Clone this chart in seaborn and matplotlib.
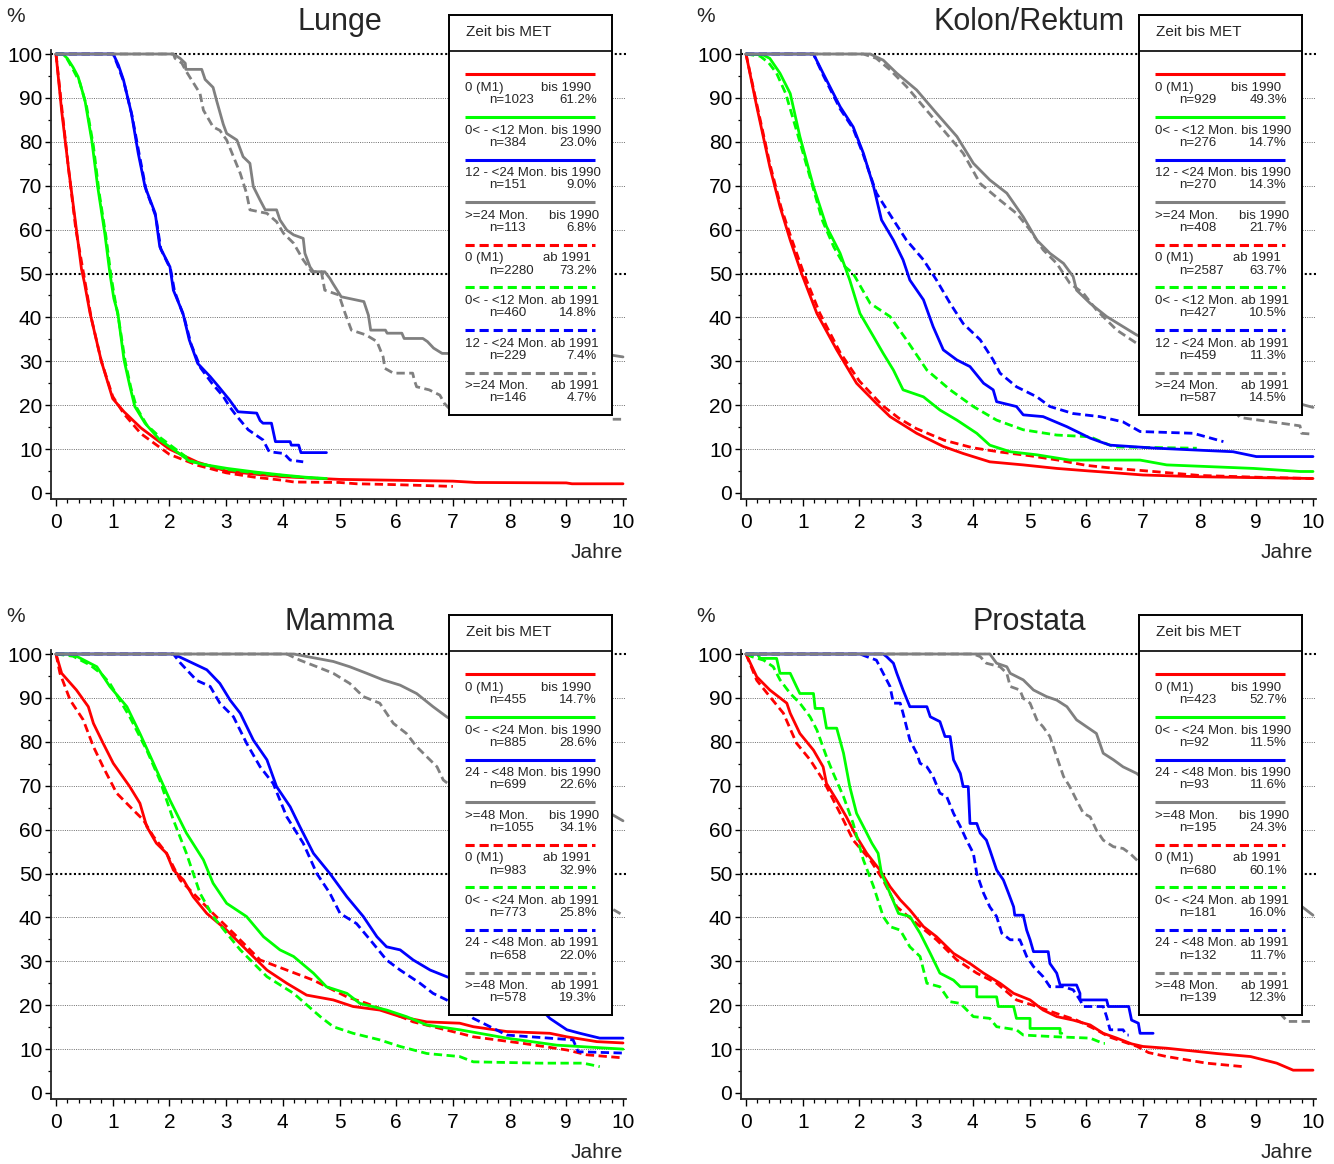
import matplotlib
matplotlib.use("Agg")
import matplotlib.pyplot as plt
from matplotlib.ticker import MultipleLocator
import pandas as pd
import seaborn as sns

sns.set_theme(style="white")
plt.rcParams["font.family"] = ["Liberation Sans", "DejaVu Sans"]

# ---------------------------------------------------------------- data
PERIODS = ["bis 1990", "ab 1991"]
COLORS = ["#ff0000", "#00ff00", "#0000ff", "#808080"]

# Lunge
lunge_groups = ["0 (M1)", "0< - <12 Mon.", "12 - <24 Mon.", ">=24 Mon."]
lunge_n_bis = [1023, 384, 151, 113]
lunge_pct_bis = [61.2, 23.0, 9.0, 6.8]
lunge_n_ab = [2280, 460, 229, 146]
lunge_pct_ab = [73.2, 14.8, 7.4, 4.7]

lunge_g0_bis_t = [0, 0.1, 0.22, 0.35, 0.45, 0.5, 0.6, 0.8, 1.0, 1.2, 1.5, 2.0, 2.5, 3.0, 3.5, 4.0, 5.0, 6.0, 7.0, 7.4, 9.0, 9.1, 10.0]
lunge_g0_bis_s = [100, 87, 74, 61, 51, 48, 41, 30, 21.5, 18.5, 14.8, 10, 7, 5.0, 4.3, 3.7, 3.1, 2.9, 2.7, 2.4, 2.3, 2.1, 2.1]
lunge_g0_ab_t = [0, 0.1, 0.22, 0.35, 0.5, 0.62, 0.8, 1.0, 1.2, 1.5, 2.0, 2.5, 3.0, 3.5, 4.0, 4.2, 5.0, 5.3, 6.0, 7.0]
lunge_g0_ab_s = [100, 88, 74, 60, 49, 40, 30, 22, 18, 13.5, 8.8, 6.3, 4.6, 3.6, 2.9, 2.5, 2.4, 2.1, 1.9, 1.5]
lunge_g1_bis_t = [0, 0.12, 0.2, 0.3, 0.39, 0.51, 0.63, 0.735, 0.86, 0.95, 1.02, 1.09, 1.2, 1.3, 1.39, 1.57, 1.83, 2.13, 2.35, 2.6, 3.02, 3.5, 3.99, 4.4, 4.77]
lunge_g1_bis_s = [100, 100, 99, 97, 94.8, 89.5, 80.4, 69.8, 59.2, 50.1, 44.3, 41, 30.3, 24.5, 19.7, 15.9, 12.1, 9.4, 7.3, 6.5, 5.6, 4.8, 4.1, 3.6, 3.3]
lunge_g1_ab_t = [0, 0.12, 0.2, 0.3, 0.42, 0.54, 0.66, 0.76, 0.88, 0.97, 1.04, 1.1, 1.22, 1.32, 1.42, 1.6, 1.85, 2.15, 2.4, 2.7, 3.0, 3.5, 4.0, 4.4, 4.7]
lunge_g1_ab_s = [100, 100, 98.8, 96.5, 93.5, 88, 79, 68.5, 58.5, 49.5, 44, 40, 30, 24, 19.5, 15.5, 12.5, 9.6, 7.2, 6.2, 5.4, 4.6, 4.0, 3.5, 3.3]
lunge_g2_bis_t = [0, 1.01, 1.1, 1.19, 1.33, 1.45, 1.57, 1.75, 1.83, 2.01, 2.07, 2.24, 2.35, 2.5, 2.72, 2.87, 3.06, 3.21, 3.54, 3.6, 3.65, 3.8, 3.87, 4.13, 4.15, 4.28, 4.32, 4.77]
lunge_g2_bis_s = [100, 100, 97.5, 94.1, 86.5, 77.4, 69.8, 63.7, 56.1, 51.5, 46.2, 40.9, 34.9, 29.5, 26.5, 24.2, 21.2, 18.5, 18.2, 16.5, 15.9, 15.9, 11.7, 11.7, 10.9, 10.9, 9.2, 9.2]
lunge_g2_ab_t = [0, 1.01, 1.1, 1.2, 1.34, 1.47, 1.59, 1.76, 1.85, 2.02, 2.09, 2.26, 2.38, 2.55, 2.75, 2.95, 3.06, 3.17, 3.39, 3.65, 3.76, 4.02, 4.13, 4.36]
lunge_g2_ab_s = [100, 100, 97, 93.5, 86, 77, 69, 63, 55.5, 51, 46, 40, 34, 28.5, 25, 22, 19.7, 17.8, 14.4, 12.1, 9.4, 9.0, 7.5, 7.1]
lunge_g3_bis_t = [0, 2.07, 2.19, 2.28, 2.29, 2.57, 2.63, 2.77, 2.83, 2.95, 3.01, 3.19, 3.3, 3.42, 3.48, 3.6, 3.69, 3.89, 3.95, 4.07, 4.19, 4.36, 4.39, 4.48, 4.54, 4.74, 4.83, 4.88, 5.03, 5.43, 5.51, 5.55, 5.81, 5.84, 6.1, 6.14, 6.47, 6.55, 6.66, 6.81, 9.8, 10.0]
lunge_g3_bis_s = [100, 100, 99, 97.9, 96.5, 96.5, 94.2, 92.4, 89.5, 84, 81.9, 80.4, 76.6, 75.1, 69.8, 66.7, 64.5, 64.5, 62.2, 59.9, 58.8, 58, 54.6, 51.5, 50.4, 50.4, 48.9, 47.8, 44.7, 43.6, 40.5, 37.1, 37.1, 36.4, 36.4, 35.2, 35.2, 34.5, 33, 31.8, 31.4, 31]
lunge_g3_ab_t = [0, 2.07, 2.1, 2.22, 2.28, 2.54, 2.6, 2.77, 2.89, 3.01, 3.13, 3.25, 3.36, 3.42, 3.72, 3.89, 4.01, 4.19, 4.36, 4.51, 4.68, 4.74, 4.99, 5.1, 5.21, 5.47, 5.66, 5.77, 5.8, 5.95, 6.29, 6.32, 6.36, 6.58, 6.77, 6.85, 7.0, 9.78, 9.8, 10.0]
lunge_g3_ab_s = [100, 100, 99, 97.9, 96.4, 91, 87.2, 83.4, 82.6, 80.4, 76.6, 72.8, 68.3, 64.5, 63.7, 61.8, 59.2, 56.9, 53.1, 50.4, 50.4, 46.2, 45.1, 40.9, 37.1, 36, 34.5, 31, 28.4, 27.3, 27.3, 25.7, 24.2, 23.5, 22.3, 20.4, 18.4, 18.4, 16.8, 16.8]

# Kolon/Rektum
kolon_groups = ["0 (M1)", "0< - <12 Mon.", "12 - <24 Mon.", ">=24 Mon."]
kolon_n_bis = [929, 276, 270, 408]
kolon_pct_bis = [49.3, 14.7, 14.3, 21.7]
kolon_n_ab = [2587, 427, 459, 587]
kolon_pct_ab = [63.7, 10.5, 11.3, 14.5]

kolon_g0_bis_t = [0, 0.19, 0.42, 0.6, 0.78, 0.98, 1.25, 1.6, 1.95, 2.3, 2.54, 3.01, 3.48, 3.83, 4.3, 4.89, 5.48, 6.07, 6.5, 7.0, 8.0, 9.0, 10.0]
kolon_g0_bis_s = [100, 88, 74.3, 65.2, 57.6, 50, 40.9, 32.6, 25, 20.4, 17.4, 13.6, 10.6, 9, 7.1, 6.4, 5.6, 5.0, 4.6, 4.1, 3.7, 3.5, 3.3]
kolon_g0_ab_t = [0, 0.2, 0.42, 0.62, 0.8, 1.02, 1.3, 1.66, 2.0, 2.4, 2.7, 3.0, 3.5, 4.0, 4.5, 5.0, 5.5, 6.0, 6.5, 7.0, 8.0, 9.0, 10.0]
kolon_g0_ab_s = [100, 88, 75, 65, 58, 50, 41, 32, 25.5, 20, 17, 14.7, 12, 10.3, 9.3, 8.5, 7.5, 6.3, 5.6, 5.1, 4.0, 3.6, 3.3]
kolon_g1_bis_t = [0, 0.3, 0.42, 0.6, 0.78, 0.95, 1.19, 1.42, 1.66, 1.83, 2.01, 2.25, 2.42, 2.6, 2.77, 3.13, 3.42, 3.72, 4.07, 4.3, 4.66, 5.13, 5.71, 6.95, 7.42, 8.95, 9.77, 10.0]
kolon_g1_bis_s = [100, 99.8, 99, 95.6, 91, 81.2, 69.8, 60.7, 54.6, 48.5, 40.9, 35.6, 31.8, 28, 23.5, 21.9, 18.9, 16.6, 13.6, 10.9, 9.4, 8.7, 7.5, 7.5, 6.4, 5.6, 4.9, 4.9]
kolon_g1_ab_t = [0, 0.25, 0.4, 0.54, 0.7, 0.95, 1.15, 1.35, 1.55, 1.75, 1.89, 2.19, 2.54, 2.83, 3.19, 3.6, 4.01, 4.42, 4.89, 5.48, 6.07, 6.3, 6.5, 7.95]
kolon_g1_ab_s = [100, 99.5, 98, 95.6, 91, 80, 71, 62, 56, 51.5, 50, 43.2, 40.2, 34.9, 28, 23.5, 19.7, 16.6, 14.4, 13.2, 12.8, 11.5, 10.5, 10.2]
kolon_g2_bis_t = [0, 1.19, 1.36, 1.66, 1.89, 2.07, 2.25, 2.39, 2.6, 2.77, 2.89, 3.13, 3.3, 3.48, 3.72, 3.95, 4.19, 4.36, 4.42, 4.77, 4.89, 5.24, 5.66, 6.07, 6.24, 6.42, 7.24, 8.59, 9.0, 10.0]
kolon_g2_bis_s = [100, 100, 95.6, 88, 83.4, 77.4, 69.8, 62.2, 57.6, 53.1, 48.5, 44, 37.9, 32.6, 30.3, 28.8, 25, 23.5, 20.8, 19.7, 17.8, 17.4, 15.1, 12.5, 11.7, 10.9, 10.2, 9.4, 8.3, 8.3]
kolon_g2_ab_t = [0, 1.19, 1.36, 1.66, 1.89, 2.07, 2.3, 2.6, 2.83, 3.13, 3.36, 3.6, 3.83, 4.13, 4.36, 4.48, 4.77, 5.13, 5.36, 5.77, 6.24, 6.65, 6.95, 7.89, 8.42]
kolon_g2_ab_s = [100, 100, 95.2, 87.5, 83, 77, 68.3, 62.2, 57.6, 53.1, 48.5, 43.2, 38.6, 34.9, 30.3, 27.3, 24.2, 21.9, 19.7, 18.1, 17.4, 16.2, 14, 13.6, 11.7]
kolon_g3_bis_t = [0, 2.19, 2.42, 2.66, 3.01, 3.36, 3.72, 4.01, 4.3, 4.6, 4.89, 5.13, 5.36, 5.6, 5.77, 5.83, 6.07, 6.36, 6.65, 6.89, 9.8, 10.0]
kolon_g3_bis_s = [100, 100, 98.6, 95.6, 91.8, 86.5, 81.2, 75.1, 71.3, 68.3, 62.9, 57.6, 54.6, 52.3, 49.3, 46.2, 43.2, 40.2, 37.9, 36, 20.2, 19.5]
kolon_g3_ab_t = [0, 2.07, 2.3, 2.54, 2.83, 3.13, 3.48, 3.83, 4.13, 4.48, 4.77, 5.01, 5.24, 5.48, 5.71, 5.95, 6.18, 6.54, 6.89, 8.6, 8.71, 9.1, 9.77, 9.8, 10.0]
kolon_g3_ab_s = [100, 100, 99, 96.4, 92.6, 88, 82.7, 77.4, 70.5, 66.7, 63.7, 59.9, 55.4, 52.3, 47.8, 45.5, 41.7, 37.1, 34.1, 19, 17.2, 16.5, 15.3, 13.6, 13.4]

# Mamma
mamma_groups = ["0 (M1)", "0< - <24 Mon.", "24 - <48 Mon.", ">=48 Mon."]
mamma_n_bis = [455, 885, 699, 1055]
mamma_pct_bis = [14.7, 28.6, 22.6, 34.1]
mamma_n_ab = [983, 773, 658, 578]
mamma_pct_ab = [32.9, 25.8, 22.0, 19.3]

mamma_g0_bis_t = [0, 0.1, 0.36, 0.57, 0.66, 0.83, 1.01, 1.3, 1.48, 1.6, 1.77, 1.95, 2.07, 2.25, 2.42, 2.66, 3.01, 3.36, 3.72, 4.07, 4.42, 4.89, 5.24, 5.71, 6.07, 6.54, 7.12, 7.36, 7.95, 8.71, 9.01, 9.54, 10.0]
mamma_g0_bis_s = [100, 95.6, 91.8, 88, 84.2, 79.7, 75.1, 69.8, 66, 60.7, 56.9, 54.6, 50.8, 48.5, 44.7, 40.9, 37.1, 32.6, 28, 25, 22.3, 21.2, 19.7, 18.9, 17.4, 16.2, 15.9, 15.1, 14, 13.6, 12.8, 11.7, 11.4]
mamma_g0_ab_t = [0, 0.07, 0.25, 0.48, 0.66, 0.83, 1.07, 1.36, 1.54, 1.72, 1.95, 2.19, 2.42, 2.77, 3.13, 3.6, 4.07, 4.54, 5.13, 5.48, 5.95, 6.3, 6.65, 7.12, 7.36, 8.24, 9.01, 9.36, 10.0]
mamma_g0_ab_s = [100, 95.6, 89.5, 85, 78.9, 74.3, 68.3, 64.5, 62.2, 58.4, 54.6, 48.5, 45.5, 40.9, 36.4, 30.3, 28, 25.7, 21.9, 20.4, 18.1, 16.2, 15.1, 13.6, 12.8, 11.3, 9.8, 8.7, 8]
mamma_g1_bis_t = [0, 0.2, 0.36, 0.72, 0.95, 1.25, 1.48, 1.72, 2.01, 2.3, 2.6, 2.77, 3.01, 3.36, 3.66, 3.95, 4.19, 4.54, 4.77, 5.13, 5.36, 5.83, 6.18, 6.54, 7.12, 7.95, 8.83, 10.0]
mamma_g1_bis_s = [100, 100, 99.5, 97.1, 92.6, 88, 81.9, 75.1, 66.7, 59.2, 53.1, 47.8, 43.2, 40.2, 35.6, 32.6, 31.1, 27.3, 24.2, 22.7, 20.4, 18.9, 17.4, 15.5, 14.4, 12.5, 10.9, 10]
mamma_g1_ab_t = [0, 0.3, 0.6, 0.8, 0.95, 1.3, 1.6, 1.83, 2.07, 2.3, 2.54, 2.77, 3.25, 3.72, 4.19, 4.66, 4.89, 5.24, 5.71, 6.07, 6.54, 7.12, 7.36, 8.53, 9.3, 9.59]
mamma_g1_ab_s = [100, 99.5, 97.5, 95.5, 93.3, 85.7, 78.1, 71.3, 62.2, 54.6, 45.5, 40.2, 32.6, 26.5, 22.7, 17.4, 15.1, 13.6, 12.1, 10.6, 9, 8.3, 7.1, 6.8, 6.8, 6]
mamma_g2_bis_t = [0, 2.07, 2.3, 2.66, 2.89, 3.07, 3.25, 3.48, 3.72, 3.89, 4.13, 4.3, 4.54, 4.83, 5.13, 5.42, 5.66, 5.83, 6.07, 6.3, 6.6, 6.89, 8.6, 8.71, 9.01, 9.24, 9.59, 10.0]
mamma_g2_bis_s = [100, 100, 98.6, 96.4, 93.3, 89.5, 86.5, 80.4, 75.9, 69.8, 65.2, 60.7, 54.6, 50, 44.7, 40.2, 35.6, 33.3, 32.6, 30.3, 28, 26.5, 18.5, 17, 14.4, 13.6, 12.5, 12.5]
mamma_g2_ab_t = [0, 2.07, 2.19, 2.48, 2.72, 2.89, 3.13, 3.36, 3.6, 3.83, 4.07, 4.36, 4.6, 4.83, 5.01, 5.3, 5.54, 5.83, 6.07, 6.42, 6.65, 6.89, 7.36, 7.95, 9.12, 9.21, 10.0]
mamma_g2_ab_s = [100, 100, 98, 94, 92.6, 88.8, 85.7, 79.7, 74.3, 70.5, 62.9, 56.9, 50, 45.5, 40.9, 38.6, 34.9, 30.3, 28, 25, 22.7, 21.2, 17, 13.2, 12.1, 9.4, 9.1]
mamma_g3_bis_t = [0, 4.19, 4.6, 4.89, 5.18, 5.48, 5.77, 6.07, 6.36, 6.65, 6.89, 9.8, 10.0]
mamma_g3_bis_s = [100, 100, 99, 98.3, 97.1, 95.6, 94.1, 92.9, 91, 88, 85.7, 63.5, 62]
mamma_g3_ab_t = [0, 4.07, 4.3, 4.6, 4.89, 5.18, 5.42, 5.71, 5.95, 6.18, 6.36, 6.54, 6.72, 6.83, 9.8, 10.0]
mamma_g3_ab_s = [100, 100, 98.6, 97.1, 95.6, 93.3, 90.3, 88.8, 84.2, 81.9, 78.9, 76.6, 74.3, 71.3, 42, 40.5]

# Prostata
prostata_groups = ["0 (M1)", "0< - <24 Mon.", "24 - <48 Mon.", ">=48 Mon."]
prostata_n_bis = [423, 92, 93, 195]
prostata_pct_bis = [52.7, 11.5, 11.6, 24.3]
prostata_n_ab = [680, 181, 132, 139]
prostata_pct_ab = [60.1, 16.0, 11.7, 12.3]

prostata_g0_bis_t = [0, 0.19, 0.42, 0.72, 0.78, 0.95, 1.19, 1.36, 1.42, 1.6, 1.77, 1.95, 2.13, 2.36, 2.54, 2.72, 2.89, 3.13, 3.36, 3.66, 3.95, 4.19, 4.48, 4.72, 5.01, 5.24, 5.48, 5.77, 6.07, 6.3, 6.54, 6.8, 7.0, 7.42, 8.3, 8.9, 9.36, 9.65, 10.0]
prostata_g0_bis_s = [100, 94.8, 91.8, 88.8, 86.5, 81.9, 78.1, 74.3, 70.5, 66.7, 62.9, 58.4, 54.6, 50.8, 47, 44, 41.7, 37.9, 35.6, 31.8, 29.5, 27.3, 25, 22.7, 21.2, 18.9, 17.4, 16.6, 15.5, 13.6, 12.5, 11.2, 10.6, 10.2, 9.0, 8.3, 6.8, 5.2, 5.2]
prostata_g0_ab_t = [0, 0.19, 0.42, 0.66, 0.89, 1.13, 1.36, 1.66, 1.89, 2.19, 2.42, 2.66, 3.01, 3.36, 3.72, 4.07, 4.42, 4.77, 5.13, 5.48, 5.83, 6.18, 6.4, 6.9, 7.1, 7.42, 8.12, 8.77]
prostata_g0_ab_s = [100, 94, 90.3, 86.5, 79.7, 75.9, 71.3, 63.7, 57.6, 53.1, 48.5, 42.4, 38.6, 34.9, 30.3, 27.3, 25, 21.2, 19.7, 18.1, 16.6, 14.4, 12.8, 10.6, 9.2, 8.3, 6.8, 6]
prostata_g1_bis_t = [0, 0.2, 0.25, 0.54, 0.6, 0.78, 0.89, 0.95, 1.19, 1.22, 1.36, 1.42, 1.6, 1.72, 1.83, 1.95, 2.07, 2.22, 2.33, 2.39, 2.54, 2.69, 2.89, 3.07, 3.25, 3.42, 3.66, 3.78, 4.07, 4.07, 4.42, 4.45, 4.72, 4.77, 5.01, 5.01, 5.54, 5.54, 5.57]
prostata_g1_bis_s = [100, 100, 99, 99, 95.6, 95.6, 92.6, 91, 91, 87.6, 87.6, 83.1, 83.1, 77.4, 69.8, 63.7, 60.7, 56.9, 54.6, 50, 45.5, 40.9, 40.2, 36.4, 31.8, 27.3, 25.7, 24.2, 24.2, 21.9, 21.9, 19.7, 19.7, 17, 17, 14.7, 14.7, 13.6, 13.6]
prostata_g1_ab_t = [0, 0.1, 0.31, 0.48, 0.6, 0.78, 0.95, 1.13, 1.25, 1.42, 1.54, 1.72, 1.89, 2.07, 2.25, 2.42, 2.54, 2.72, 2.89, 3.07, 3.19, 3.42, 3.6, 3.78, 4.01, 4.3, 4.42, 4.77, 4.89, 5.48, 6.07, 6.3, 6.33]
prostata_g1_ab_s = [100, 99.4, 98.6, 97.1, 94.1, 91, 88.8, 85.7, 82.7, 76.6, 72.8, 67.5, 61.4, 53.1, 47, 40.2, 37.9, 37.1, 33.3, 31.1, 25, 24.2, 20.8, 20.4, 17.4, 17, 15.1, 14.4, 13.2, 12.8, 12.5, 11.3, 11.3]
prostata_g2_bis_t = [0, 2.42, 2.48, 2.6, 2.66, 2.77, 2.89, 3.19, 3.25, 3.42, 3.51, 3.6, 3.66, 3.78, 3.83, 3.92, 3.95, 4.07, 4.13, 4.24, 4.3, 4.42, 4.54, 4.63, 4.72, 4.74, 4.89, 4.95, 5.01, 5.07, 5.33, 5.36, 5.48, 5.54, 5.83, 5.89, 5.89, 6.36, 6.39, 6.75, 6.8, 6.92, 6.95, 7.18]
prostata_g2_bis_s = [100, 100, 99.4, 97.9, 95.6, 91.8, 88, 88, 85.7, 84.6, 81.2, 81.2, 75.9, 72.8, 69.8, 69.8, 61.4, 61.4, 59.2, 57.6, 55.4, 50.8, 48.5, 45.5, 42.4, 40.5, 40.5, 37.1, 34.9, 32.2, 32.2, 29.5, 27.3, 24.6, 24.6, 22.7, 21.2, 21.2, 19.7, 19.7, 16.6, 15.9, 13.6, 13.6]
prostata_g2_ab_t = [0, 2.01, 2.13, 2.3, 2.42, 2.54, 2.6, 2.72, 2.77, 2.89, 3.01, 3.07, 3.19, 3.3, 3.42, 3.54, 3.66, 3.78, 3.89, 4.01, 4.07, 4.19, 4.3, 4.42, 4.51, 4.66, 4.83, 4.95, 5.07, 5.24, 5.36, 5.6, 5.77, 5.89, 5.95, 6.3, 6.36, 6.42, 6.65, 6.71, 6.75]
prostata_g2_ab_s = [100, 100, 99.4, 98.6, 95.6, 92.6, 88.8, 88.8, 86.5, 80.4, 77.4, 75.1, 74.3, 72.1, 68.3, 67.5, 63.7, 60.7, 57.6, 54.6, 50, 45.5, 42.4, 40.2, 36.4, 34.9, 34.9, 31.1, 28.8, 26.5, 24.2, 24.2, 23.5, 21.2, 19.7, 19.7, 17.4, 14.4, 14.4, 13.2, 13.2]
prostata_g3_bis_t = [0, 4.3, 4.42, 4.6, 4.66, 4.89, 5.07, 5.3, 5.48, 5.66, 5.83, 6.01, 6.18, 6.3, 6.48, 6.65, 6.89, 9.8, 10.0]
prostata_g3_bis_s = [100, 100, 97.9, 97.1, 95.6, 94.1, 91.8, 90.3, 89.5, 88, 85, 83.4, 81.9, 77.4, 75.9, 74.3, 72.8, 42.5, 40.5]
prostata_g3_ab_t = [0, 4.01, 4.13, 4.24, 4.48, 4.6, 4.66, 4.83, 4.89, 5.01, 5.13, 5.24, 5.36, 5.48, 5.6, 5.71, 5.83, 5.95, 6.07, 6.18, 6.3, 6.48, 6.65, 6.77, 6.89, 9.55, 10.0]
prostata_g3_ab_s = [100, 100, 99.4, 97.9, 97.1, 95.6, 92.6, 91.8, 89.9, 88.8, 85, 83.4, 81.2, 76.6, 72.1, 69.8, 66.7, 63.7, 62.9, 59.9, 57.6, 56.1, 55.7, 54.6, 53.1, 16.3, 16.3]

PANELS = [
    dict(title="Lunge", dx=0, dy=0, groups=lunge_groups,
         n=(lunge_n_bis, lunge_n_ab), pct=(lunge_pct_bis, lunge_pct_ab),
         curves={("bis 1990", 0): (lunge_g0_bis_t, lunge_g0_bis_s), ("ab 1991", 0): (lunge_g0_ab_t, lunge_g0_ab_s),
                 ("bis 1990", 1): (lunge_g1_bis_t, lunge_g1_bis_s), ("ab 1991", 1): (lunge_g1_ab_t, lunge_g1_ab_s),
                 ("bis 1990", 2): (lunge_g2_bis_t, lunge_g2_bis_s), ("ab 1991", 2): (lunge_g2_ab_t, lunge_g2_ab_s),
                 ("bis 1990", 3): (lunge_g3_bis_t, lunge_g3_bis_s), ("ab 1991", 3): (lunge_g3_ab_t, lunge_g3_ab_s)}),
    dict(title="Kolon/Rektum", dx=690, dy=0, groups=kolon_groups,
         n=(kolon_n_bis, kolon_n_ab), pct=(kolon_pct_bis, kolon_pct_ab),
         curves={("bis 1990", 0): (kolon_g0_bis_t, kolon_g0_bis_s), ("ab 1991", 0): (kolon_g0_ab_t, kolon_g0_ab_s),
                 ("bis 1990", 1): (kolon_g1_bis_t, kolon_g1_bis_s), ("ab 1991", 1): (kolon_g1_ab_t, kolon_g1_ab_s),
                 ("bis 1990", 2): (kolon_g2_bis_t, kolon_g2_bis_s), ("ab 1991", 2): (kolon_g2_ab_t, kolon_g2_ab_s),
                 ("bis 1990", 3): (kolon_g3_bis_t, kolon_g3_bis_s), ("ab 1991", 3): (kolon_g3_ab_t, kolon_g3_ab_s)}),
    dict(title="Mamma", dx=0, dy=600, groups=mamma_groups,
         n=(mamma_n_bis, mamma_n_ab), pct=(mamma_pct_bis, mamma_pct_ab),
         curves={("bis 1990", 0): (mamma_g0_bis_t, mamma_g0_bis_s), ("ab 1991", 0): (mamma_g0_ab_t, mamma_g0_ab_s),
                 ("bis 1990", 1): (mamma_g1_bis_t, mamma_g1_bis_s), ("ab 1991", 1): (mamma_g1_ab_t, mamma_g1_ab_s),
                 ("bis 1990", 2): (mamma_g2_bis_t, mamma_g2_bis_s), ("ab 1991", 2): (mamma_g2_ab_t, mamma_g2_ab_s),
                 ("bis 1990", 3): (mamma_g3_bis_t, mamma_g3_bis_s), ("ab 1991", 3): (mamma_g3_ab_t, mamma_g3_ab_s)}),
    dict(title="Prostata", dx=690, dy=600, groups=prostata_groups,
         n=(prostata_n_bis, prostata_n_ab), pct=(prostata_pct_bis, prostata_pct_ab),
         curves={("bis 1990", 0): (prostata_g0_bis_t, prostata_g0_bis_s), ("ab 1991", 0): (prostata_g0_ab_t, prostata_g0_ab_s),
                 ("bis 1990", 1): (prostata_g1_bis_t, prostata_g1_bis_s), ("ab 1991", 1): (prostata_g1_ab_t, prostata_g1_ab_s),
                 ("bis 1990", 2): (prostata_g2_bis_t, prostata_g2_bis_s), ("ab 1991", 2): (prostata_g2_ab_t, prostata_g2_ab_s),
                 ("bis 1990", 3): (prostata_g3_bis_t, prostata_g3_bis_s), ("ab 1991", 3): (prostata_g3_ab_t, prostata_g3_ab_s)}),
]

# ---------------------------------------------------------------- layout
W, H = 1334, 1164
fig = plt.figure(figsize=(W / 100, H / 100), dpi=100)
fig.patch.set_facecolor("white")

PX_PER_YEAR = 56.7
X0_PX = 56.0          # pixel of t = 0 in the left column
AX_LEFT_PX = 50.7
AX_RIGHT_PX = 626.0
Y100_PX, Y0_PX = 54.0, 493.0
AX_BOTTOM_PX = 499.0
PX_PER_PCT = (Y0_PX - Y100_PX) / 100.0

DASH = (3, 1.6)
TICK_FS = 15


def fx(x):
    return x / W


def fy(y):
    return 1 - y / H


for p in PANELS:
    dx, dy = p["dx"], p["dy"]
    top_px = Y100_PX - 1.0 * PX_PER_PCT
    ax = fig.add_axes([fx(AX_LEFT_PX + dx), fy(AX_BOTTOM_PX + dy),
                       (AX_RIGHT_PX - AX_LEFT_PX) / W, (AX_BOTTOM_PX - top_px) / H])
    xmin = (AX_LEFT_PX - X0_PX) / PX_PER_YEAR
    xmax = (AX_RIGHT_PX - X0_PX) / PX_PER_YEAR
    ymin = -(AX_BOTTOM_PX - Y0_PX) / PX_PER_PCT
    ax.set_xlim(xmin, xmax)
    ax.set_ylim(ymin, 101)
    ax.set_facecolor("white")

    # horizontal reference lines
    for yv in range(10, 100, 10):
        if yv == 50:
            continue
        ax.axhline(yv, color="#6e6e6e", lw=0.7, ls=(0, (1, 1.3)), zorder=1)
    for yv in (50, 100):
        ax.axhline(yv, color="black", lw=1.5, ls=(0, (1, 1.2)), zorder=1)

    rows = []
    for (period, gi), (ts, ss) in p["curves"].items():
        for t, s in zip(ts, ss):
            rows.append({"Jahre": t, "S": s, "Gruppe": p["groups"][gi], "Zeitraum": period})
    df = pd.DataFrame(rows)
    sns.lineplot(data=df, x="Jahre", y="S", hue="Gruppe", style="Zeitraum",
                 hue_order=p["groups"], style_order=PERIODS,
                 palette=dict(zip(p["groups"], COLORS)),
                 dashes={"bis 1990": "", "ab 1991": DASH},
                 estimator=None, sort=False, errorbar=None, legend=False,
                 lw=2.0, ax=ax, zorder=3)

    ax.set_xlabel("")
    ax.set_ylabel("")
    ax.set_xticks(range(0, 11))
    ax.set_yticks(range(0, 101, 10))
    ax.xaxis.set_minor_locator(MultipleLocator(0.2))
    ax.yaxis.set_minor_locator(MultipleLocator(5))
    ax.tick_params(axis="both", which="both", direction="out", colors="black",
                   bottom=True, left=True, labelsize=TICK_FS)
    ax.tick_params(axis="x", which="major", length=5, width=1.0, pad=5)
    ax.tick_params(axis="x", which="minor", length=3, width=0.9)
    ax.tick_params(axis="y", which="major", length=4, width=1.0, pad=2)
    ax.tick_params(axis="y", which="minor", length=2.5, width=0.9)
    for side in ("top", "right"):
        ax.spines[side].set_visible(False)
    for side in ("left", "bottom"):
        ax.spines[side].set_color("#222222")
        ax.spines[side].set_linewidth(1.3)
    ax.grid(False)

    # panel texts
    fig.text(fx(X0_PX + 5 * PX_PER_YEAR + dx), fy(22 + dy), p["title"],
             ha="center", va="center", fontsize=22)
    fig.text(fx(16 + dx), fy(17 + dy), "%", ha="center", va="center", fontsize=15)
    fig.text(fx(X0_PX + 10 * PX_PER_YEAR + dx), fy(553 + dy), "Jahre",
             ha="right", va="center", fontsize=15)

    # legend box
    lx, ly, lw_, lh = 449 + dx, 15 + dy, 163, 400
    leg = fig.add_axes([fx(lx), fy(ly + lh), lw_ / W, lh / H], zorder=5)
    leg.set_xlim(0, lw_)
    leg.set_ylim(lh, 0)
    leg.set_xticks([])
    leg.set_yticks([])
    leg.set_facecolor("white")
    for s in leg.spines.values():
        s.set_color("black")
        s.set_linewidth(1.4)
    leg.axhline(36, color="black", lw=1.2)
    leg.text(16.5, 16.5, "Zeit bis MET", fontsize=11, va="center", ha="left")
    k = 0
    for pi, period in enumerate(PERIODS):
        for gi, grp in enumerate(p["groups"]):
            yl = 59.3 + 42.6 * k
            leg.plot([16, 146], [yl, yl], color=COLORS[gi], lw=2.2,
                     ls="-" if pi == 0 else (0, DASH), solid_capstyle="butt")
            if grp.startswith("0 (") or grp.startswith(">="):
                leg.text(16, yl + 13.6, grp, fontsize=9.5, va="center", ha="left")
                xr = 142 if grp.startswith("0 (") else 150
                leg.text(xr, yl + 13.6, period, fontsize=9.5, va="center", ha="right")
            else:
                leg.text(16, yl + 13.6, grp + " " + period, fontsize=9.5, va="center", ha="left")
            leg.text(40, yl + 25.8, f"n={p['n'][pi][gi]}", fontsize=9.5, va="center", ha="left")
            leg.text(148, yl + 25.8, f"{p['pct'][pi][gi]:.1f}%", fontsize=9.5, va="center", ha="right")
            k += 1

fig.savefig("out.png", dpi=100, facecolor="white")
